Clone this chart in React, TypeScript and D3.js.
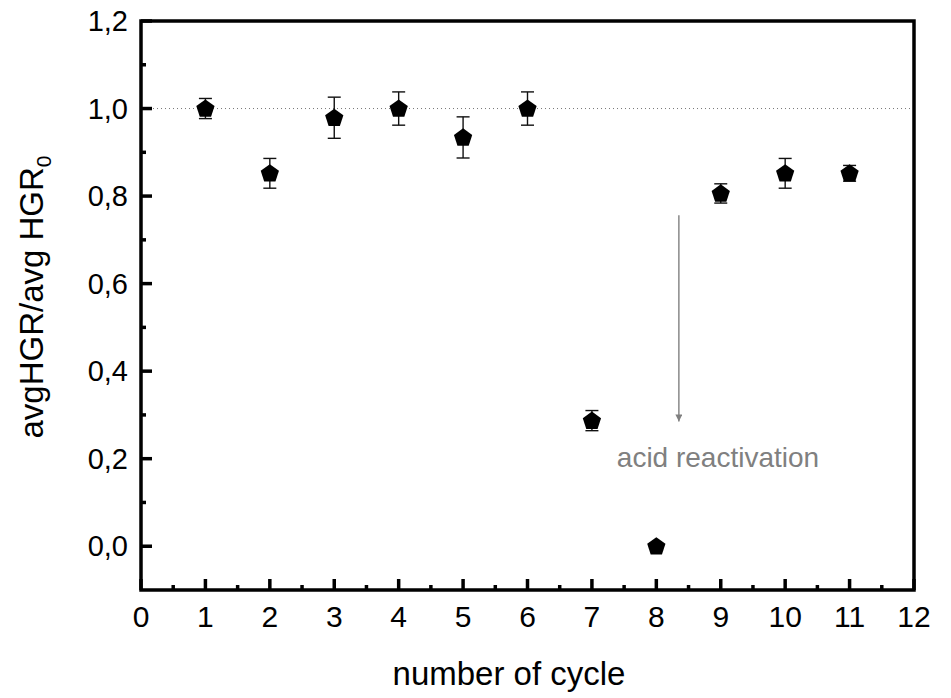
import * as d3 from "d3";
import { useEffect, useRef } from "react";

const cycles = [1, 2, 3, 4, 5, 6, 7, 8, 9, 10, 11];
const ratio = [1.0, 0.852, 0.979, 1.0, 0.934, 1.0, 0.287, 0.0, 0.806, 0.852, 0.852];
const errors = [0.023, 0.034, 0.047, 0.038, 0.047, 0.038, 0.023, 0, 0.022, 0.034, 0.018];

const xTicks = [0, 1, 2, 3, 4, 5, 6, 7, 8, 9, 10, 11, 12];
const yTicks = [0, 0.2, 0.4, 0.6, 0.8, 1.0, 1.2];

// arrow annotation, in data units
const arrowX = 8.35;
const arrowFrom = 0.756;
const arrowTo = 0.285;

const W = 951;
const H = 698;
const FONT = "'Liberation Sans', Arial, sans-serif";

// regular pentagon, point up
function pentagon(r: number) {
  const pts = d3.range(5).map(k => {
    const a = -Math.PI / 2 + (k * 2 * Math.PI) / 5;
    return [r * Math.cos(a), r * Math.sin(a)];
  });
  return "M" + pts.map(p => p.join(",")).join("L") + "Z";
}

export default function App() {
  const ref = useRef<SVGSVGElement | null>(null);

  useEffect(() => {
    if (!ref.current) return;
    const svg = d3.select(ref.current);
    svg.selectAll("*").remove();

    const left = 141, right = 914, top = 21, bottom = 590;

    const x = d3.scaleLinear().domain([0, 12]).range([left, right]);
    const y = d3.scaleLinear().domain([-0.1, 1.2]).range([bottom, top]);

    const fmt = (v: number) => v.toFixed(1).replace(".", ",");

    // reference line at 1.0
    svg.append("line")
      .attr("x1", left).attr("x2", right)
      .attr("y1", y(1)).attr("y2", y(1))
      .attr("stroke", "#777")
      .attr("stroke-width", 1)
      .attr("stroke-dasharray", "1,3");

    // minor + major ticks (inward), left and bottom only
    const tk = svg.append("g").attr("stroke", "#000").attr("stroke-width", 3.5);
    d3.range(0, 12.01, 0.5).forEach(v => {
      const major = Math.abs(v - Math.round(v)) < 1e-6;
      tk.append("line")
        .attr("x1", x(v)).attr("x2", x(v))
        .attr("y1", bottom).attr("y2", bottom - (major ? 11 : 5));
    });
    d3.range(0, 1.201, 0.1).forEach(v => {
      const major = Math.round(v * 10) % 2 === 0;
      tk.append("line")
        .attr("x1", left).attr("x2", left + (major ? 11 : 5))
        .attr("y1", y(v)).attr("y2", y(v));
    });

    // frame
    svg.append("path")
      .attr("d", `M${left},${top}H${right}V${bottom}H${left}Z`)
      .attr("fill", "none")
      .attr("stroke", "#000")
      .attr("stroke-width", 3.5);

    // tick labels
    svg.append("g").selectAll("text").data(xTicks).join("text")
      .attr("x", d => x(d))
      .attr("y", 627)
      .attr("text-anchor", "middle")
      .attr("font-family", FONT)
      .attr("font-size", 30)
      .text(d => String(d));

    svg.append("g").selectAll("text").data(yTicks).join("text")
      .attr("x", 128)
      .attr("y", d => y(d) + 10)
      .attr("text-anchor", "end")
      .attr("font-family", FONT)
      .attr("font-size", 29)
      .text(d => fmt(d));

    // axis titles
    svg.append("text")
      .attr("x", 509)
      .attr("y", 685)
      .attr("text-anchor", "middle")
      .attr("font-family", FONT)
      .attr("font-size", 33)
      .text("number of cycle");

    const yl = svg.append("text")
      .attr("transform", `translate(43,297) rotate(-90)`)
      .attr("text-anchor", "middle")
      .attr("font-family", FONT)
      .attr("font-size", 33);
    yl.append("tspan").text("avgHGR/avg HGR");
    yl.append("tspan").attr("font-size", 21).attr("dy", 8).text("0");

    // error bars
    const eb = svg.append("g").attr("stroke", "#111").attr("stroke-width", 1.4);
    cycles.forEach((c, i) => {
      const e = errors[i];
      if (e <= 0) return;
      const cx = x(c);
      eb.append("line").attr("x1", cx).attr("x2", cx)
        .attr("y1", y(ratio[i] + e)).attr("y2", y(ratio[i] - e));
      [ratio[i] + e, ratio[i] - e].forEach(v => {
        eb.append("line").attr("x1", cx - 6.5).attr("x2", cx + 6.5)
          .attr("y1", y(v)).attr("y2", y(v));
      });
    });

    // pentagon markers
    svg.append("g").selectAll("path").data(cycles).join("path")
      .attr("transform", (d, i) => `translate(${x(d)},${y(ratio[i]) + 0.5})`)
      .attr("d", pentagon(9.6))
      .attr("fill", "#000");

    // arrow annotation
    const defs = svg.append("defs");
    defs.append("marker")
      .attr("id", "ah")
      .attr("viewBox", "0 0 10 10")
      .attr("refX", 10).attr("refY", 5)
      .attr("markerWidth", 16).attr("markerHeight", 7)
      .attr("markerUnits", "userSpaceOnUse")
      .attr("orient", "auto")
      .append("path")
      .attr("d", "M0,0L10,5L0,10Z")
      .attr("fill", "#808080");

    svg.append("line")
      .attr("x1", x(arrowX)).attr("x2", x(arrowX))
      .attr("y1", y(arrowFrom)).attr("y2", y(arrowTo))
      .attr("stroke", "#808080")
      .attr("stroke-width", 1.4)
      .attr("marker-end", "url(#ah)");

    svg.append("text")
      .attr("x", 718)
      .attr("y", 467)
      .attr("text-anchor", "middle")
      .attr("font-family", FONT)
      .attr("font-size", 28)
      .attr("fill", "#808080")
      .text("acid reactivation");
  }, []);

  return (
    <svg
      ref={ref}
      width={W}
      height={H}
      style={{ position: "absolute", left: 0, top: 0, background: "#fff" }}
    />
  );
}
